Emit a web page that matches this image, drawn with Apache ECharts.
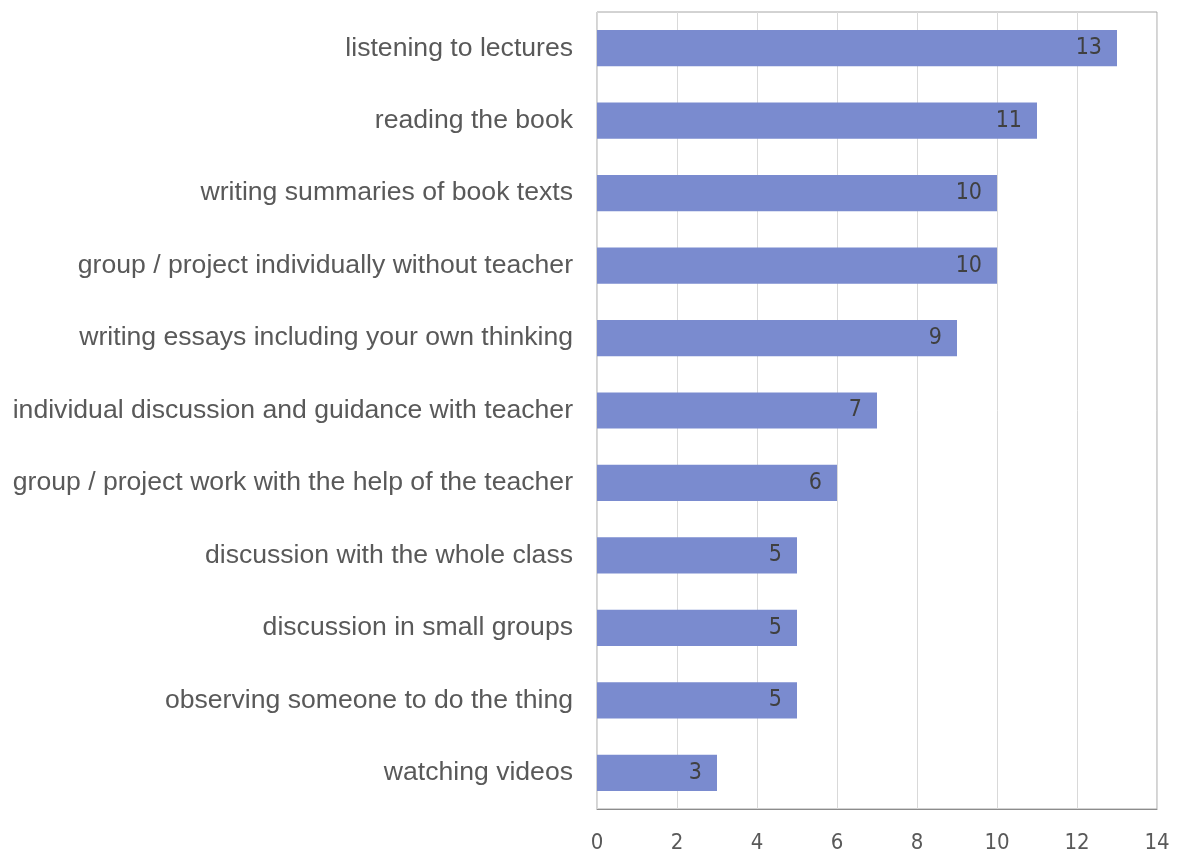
<!DOCTYPE html>
<html>
<head>
<meta charset="utf-8">
<script src="https://cdn.jsdelivr.net/npm/echarts@6/dist/echarts.min.js"></script>
<style>
  html, body { margin: 0; padding: 0; background: #ffffff; }
  #chart { width: 1187px; height: 854px; }
</style>
</head>
<body>
<div id="chart"></div>
<script>
// Activities, listed bottom to top as the category axis draws them
const categories = [
  'watching videos',
  'observing someone to do the thing',
  'discussion in small groups',
  'discussion with the whole class',
  'group / project work with the help of the teacher',
  'individual discussion and guidance with teacher',
  'writing essays including your own thinking',
  'group / project individually without teacher',
  'writing summaries of book texts',
  'reading the book',
  'listening to lectures'
];
const counts = [3, 5, 5, 5, 6, 7, 9, 10, 10, 11, 13];
const axisMin = 0;
const axisMax = 14;
const axisStep = 2;

const numFont = '"DejaVu Sans Condensed", "Liberation Sans Narrow", "Liberation Sans", sans-serif';

const chart = echarts.init(document.getElementById('chart'), null, { renderer: 'canvas' });
chart.setOption({
  animation: false,
  backgroundColor: '#ffffff',
  grid: {
    left: 597, right: 30, top: 12, bottom: 42,
    show: true, borderColor: '#a6a6a6', borderWidth: 1
  },
  xAxis: {
    type: 'value',
    min: axisMin, max: axisMax, interval: axisStep,
    axisLine: { show: true, lineStyle: { color: '#8c8c8c', width: 1 } },
    axisTick: { show: false },
    splitLine: { show: true, lineStyle: { color: '#d9d9d9', width: 1 } },
    axisLabel: { color: '#595959', fontSize: 22, fontFamily: numFont, margin: 23 }
  },
  yAxis: {
    type: 'category',
    data: categories,
    axisLine: { show: false },
    axisTick: { show: false },
    axisLabel: { color: '#595959', fontSize: 26.6, fontFamily: '"Liberation Sans", Arial, sans-serif', margin: 24 }
  },
  series: [{
    type: 'bar',
    data: counts,
    barWidth: '50%',
    itemStyle: { color: '#7a8bcf' },
    label: {
      show: true,
      position: 'insideRight',
      distance: 15,
      color: '#404040',
      fontSize: 23,
      fontFamily: numFont
    }
  }]
});
</script>
</body>
</html>
